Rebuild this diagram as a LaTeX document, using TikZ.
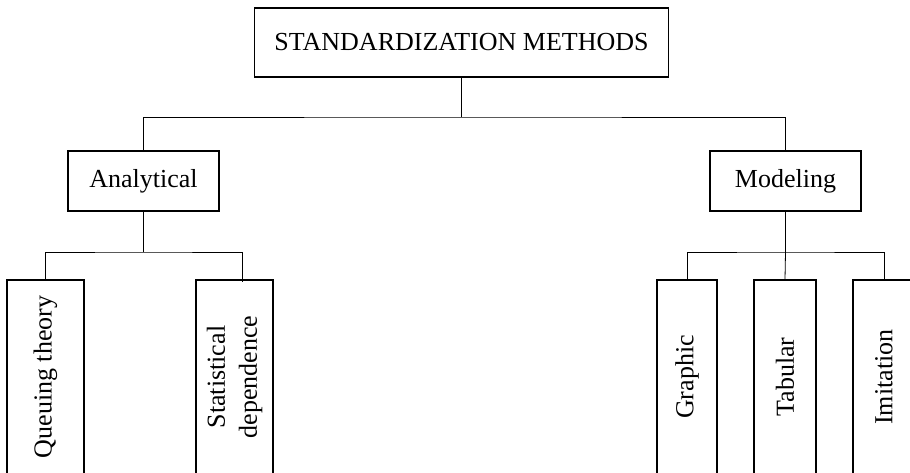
\documentclass[tikz,border=0pt]{standalone}
\usepackage{fontspec}
\setmainfont{Liberation Serif}
\begin{document}
\begin{tikzpicture}[x=1pt,y=-1pt,
  box/.style={draw=black,line width=1.3pt,inner sep=0pt,font=\fontsize{26}{32}\selectfont},
  vbox/.style={box,rotate=90,minimum width=194pt,align=center},
  link/.style={draw=black,line width=0.8pt}]
\useasboundingbox (0,0) rectangle (910,473);
\clip (0,0) rectangle (910,473);
\fill[white] (0,0) rectangle (910,473);
% top
\node[box,minimum width=414pt,minimum height=69pt] (top) at (461.5,42.5) {STANDARDIZATION METHODS};
% second level
\node[box,minimum width=151pt,minimum height=60pt] (an) at (143.5,181) {Analytical};
\node[box,minimum width=151pt,minimum height=60pt] (mo) at (785.5,181) {Modeling};
% third level
\node[vbox,minimum height=77pt] (qu) at (45.5,377) {Queuing theory};
\node[vbox,minimum height=77pt] (st) at (234.5,377) {Statistical\\dependence};
\node[vbox,minimum height=60pt] (gr) at (687,377) {Graphic};
\node[vbox,minimum height=62pt] (ta) at (785,377) {Tabular};
\node[vbox,minimum height=62pt] (im) at (884,377) {Imitation};
% bus coordinates
\coordinate (b0) at (461.5,117);
\coordinate (b1) at (0,252);
\coordinate (stc) at (242,282);
% connectors
\draw[link] (top.south) -- (b0);
\draw[link] (an.north) |- (b0) -| (mo.north);
\draw[link] (an.south) -- (an.south |- b1);
\draw[link] (qu.east) |- (b1 -| an.south) -| (stc);
\draw[link] (mo.south) -- (mo.south |- b1);
\draw[link] (gr.east) |- (b1 -| mo.south) -| (im.east);
\draw[link] (mo.south |- b1) -- (ta.east);
\end{tikzpicture}
\end{document}
